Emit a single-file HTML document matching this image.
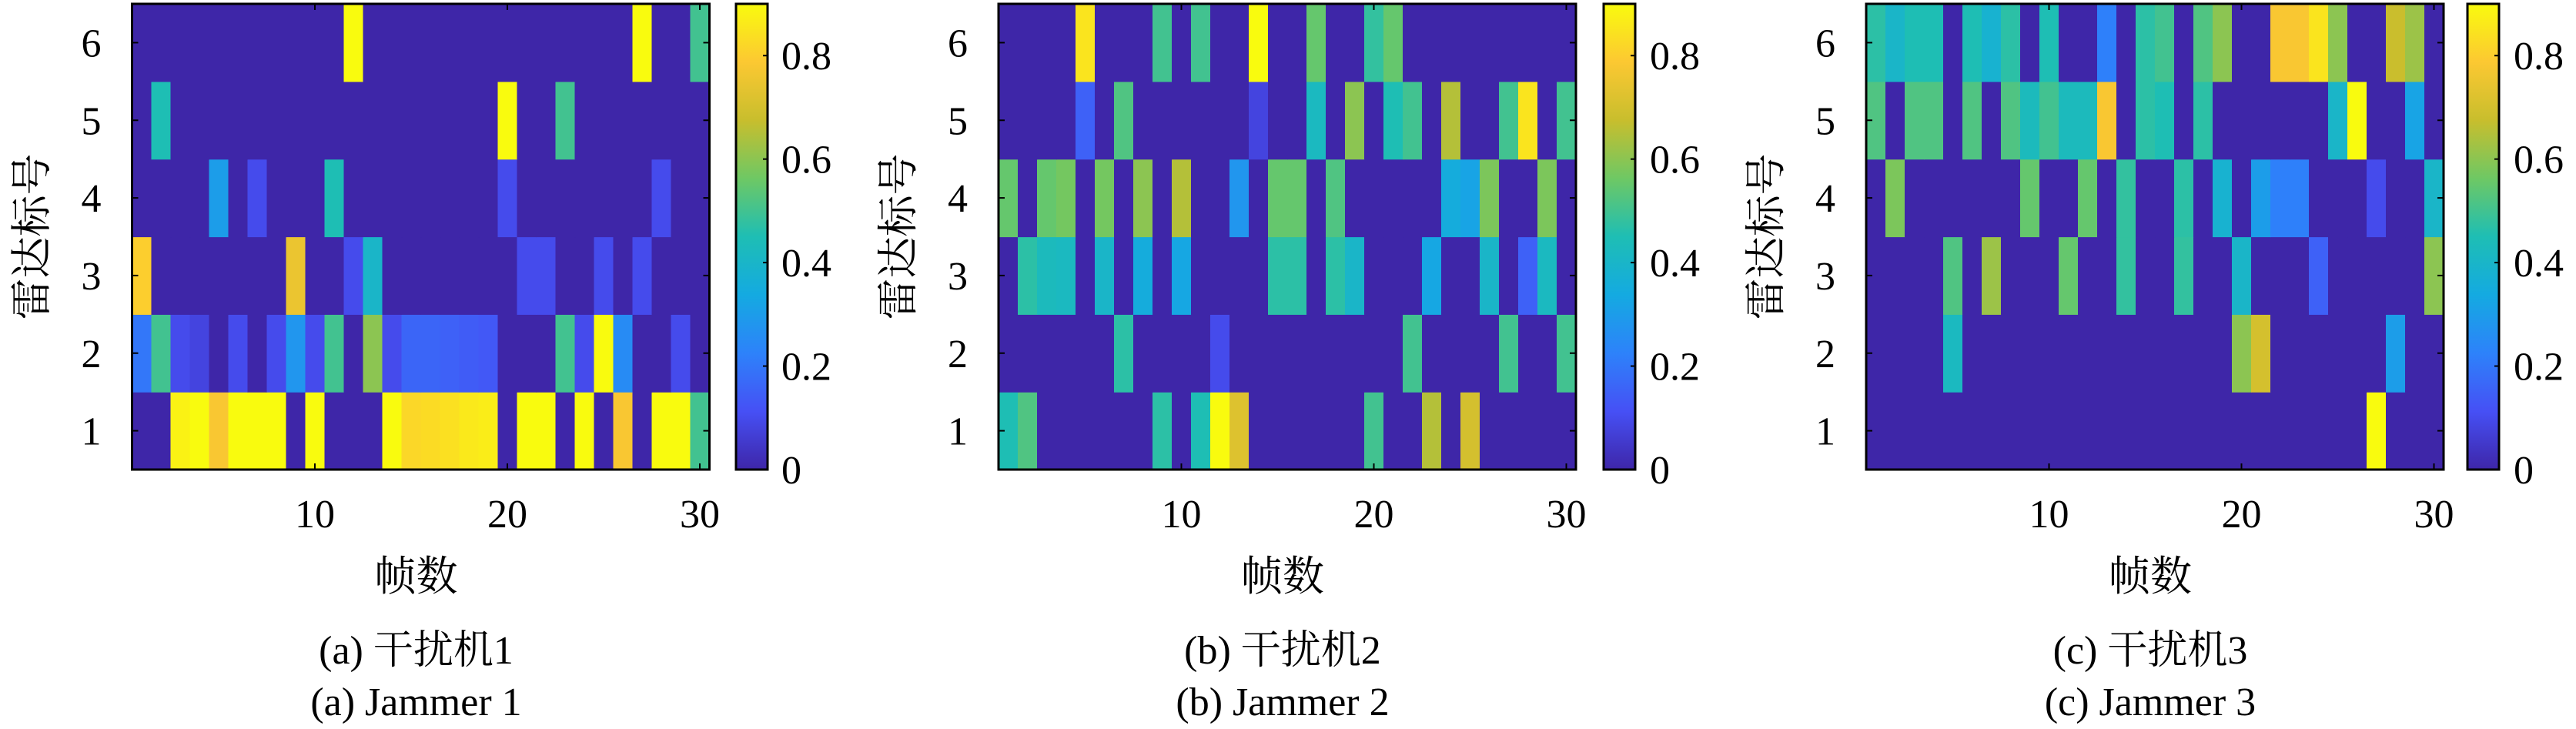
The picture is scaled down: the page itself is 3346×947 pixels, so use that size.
<!DOCTYPE html>
<html><head><meta charset="utf-8"><style>
html,body{margin:0;padding:0;background:#fff;}
svg{display:block;}
text{font-family:"Liberation Serif","Noto Serif CJK SC",serif;fill:#000;}
</style></head><body>
<svg id="chart" width="3346" height="947" viewBox="0 0 3346 947" xmlns="http://www.w3.org/2000/svg"></svg>
<script>
// ---- data (rows: radar 1..6, cols: frame 1..30) ----
const frames = [1,2,3,4,5,6,7,8,9,10,11,12,13,14,15,16,17,18,19,20,21,22,23,24,25,26,27,28,29,30];
const radars = [1,2,3,4,5,6];
const xTicks = [10,20,30];
const yTicks = [1,2,3,4,5,6];
const cTicks = [0,0.2,0.4,0.6,0.8];
const cTickLabels = ["0","0.2","0.4","0.6","0.8"];
const cMin = 0, cMax = 0.9;
const panelCaptionsZh = ["(a) 干扰机1","(b) 干扰机2","(c) 干扰机3"];
const panelCaptionsEn = ["(a) Jammer 1","(b) Jammer 2","(c) Jammer 3"];

const jammer1 = [
 [0,0,0.88,0.9,0.78,0.9,0.9,0.9,0,0.9,0,0,0,0.9,0.82,0.83,0.84,0.86,0.87,0,0.9,0.9,0,0.9,0,0.78,0,0.9,0.9,0.5],
 [0.2,0.5,0.1,0.08,0,0.1,0,0.1,0.28,0.1,0.5,0,0.6,0.1,0.16,0.16,0.15,0.14,0.13,0,0,0,0.5,0.1,0.9,0.25,0,0,0.1,0],
 [0.8,0,0,0,0,0,0,0,0.75,0,0,0.1,0.4,0,0,0,0,0,0,0,0.1,0.1,0,0,0.1,0,0.1,0,0,0],
 [0,0,0,0,0.3,0,0.1,0,0,0,0.45,0,0,0,0,0,0,0,0,0.1,0,0,0,0,0,0,0,0.1,0,0],
 [0,0.45,0,0,0,0,0,0,0,0,0,0,0,0,0,0,0,0,0,0.9,0,0,0.5,0,0,0,0,0,0,0],
 [0,0,0,0,0,0,0,0,0,0,0,0.9,0,0,0,0,0,0,0,0,0,0,0,0,0,0,0.9,0,0,0.5]
];
const jammer2 = [
 [0.45,0.52,0,0,0,0,0,0,0.47,0,0.45,0.9,0.72,0,0,0,0,0,0,0.5,0,0,0.65,0,0.7,0,0,0,0,0],
 [0,0,0,0,0,0,0.47,0,0,0,0,0.1,0,0,0,0,0,0,0,0,0,0.5,0,0,0,0,0.5,0,0,0.5],
 [0,0.47,0.43,0.42,0,0.4,0,0.35,0,0.33,0,0,0,0,0.47,0.47,0,0.47,0.4,0,0,0,0.33,0,0,0.4,0,0.15,0.42,0],
 [0.55,0,0.55,0.57,0,0.57,0,0.6,0,0.65,0,0,0.28,0,0.55,0.55,0,0.52,0,0,0,0,0,0.35,0.32,0.58,0,0,0.58,0],
 [0,0,0,0,0.15,0,0.52,0,0,0,0,0,0,0.08,0,0,0.42,0,0.6,0,0.45,0.5,0,0.65,0,0,0.5,0.85,0,0.5],
 [0,0,0,0,0.85,0,0,0,0.5,0,0.5,0,0,0.9,0,0,0.55,0,0,0.48,0.55,0,0,0,0,0,0,0,0,0]
];
const jammer3 = [
 [0,0,0,0,0,0,0,0,0,0,0,0,0,0,0,0,0,0,0,0,0,0,0,0,0,0,0.9,0,0,0],
 [0,0,0,0,0.42,0,0,0,0,0,0,0,0,0,0,0,0,0,0,0.6,0.7,0,0,0,0,0,0,0.3,0,0],
 [0,0,0,0,0.52,0,0.62,0,0,0,0.55,0,0,0.48,0,0,0.48,0,0,0.4,0,0,0,0.15,0,0,0,0,0,0.6],
 [0,0.58,0,0,0,0,0,0,0.55,0,0,0.55,0,0.48,0,0,0.47,0,0.38,0,0.3,0.22,0.22,0,0,0,0.1,0,0,0.4],
 [0.52,0,0.52,0.52,0,0.52,0,0.52,0.43,0.5,0.43,0.43,0.78,0,0.47,0.45,0,0.47,0,0,0,0,0,0,0.4,0.9,0,0,0.32,0],
 [0.47,0.4,0.45,0.45,0,0.45,0.38,0.47,0,0.45,0,0,0.22,0,0.47,0.5,0,0.52,0.6,0,0,0.78,0.78,0.85,0.6,0,0,0.68,0.62,0]
];
const jammers = [jammer1, jammer2, jammer3];

// ---- layout ----
const NS = "http://www.w3.org/2000/svg";
const svg = document.getElementById('chart');
const panels = [
 {left:171.5, cbL:956, cbLab:1015},
 {left:1297, cbL:2083, cbLab:2143},
 {left:2424, cbL:3205, cbLab:3265}
];
const W = 750, TOP = 5, BOT = 610, CBW = 41;
const stops = [[0,[62,38,168]],[0.125,[70,80,245]],[0.25,[45,130,250]],[0.375,[20,170,225]],[0.5,[30,190,180]],[0.625,[110,200,100]],[0.75,[200,190,45]],[0.875,[252,200,50]],[1,[249,251,14]]];
function parula(v){
  let t = Math.max(0, Math.min(1, (v - cMin) / (cMax - cMin)));
  for (let i = 1; i < stops.length; i++) {
    if (t <= stops[i][0]) {
      const a = stops[i-1], b = stops[i], f = (t - a[0]) / (b[0] - a[0]);
      const c = a[1].map((x, k) => Math.round(x + (b[1][k] - x) * f));
      return `rgb(${c[0]},${c[1]},${c[2]})`;
    }
  }
  return 'rgb(249,251,14)';
}
function mk(tag, attrs, parent){
  const e = document.createElementNS(NS, tag);
  for (const k in attrs) e.setAttribute(k, attrs[k]);
  (parent || svg).appendChild(e);
  return e;
}
const defs = mk('defs', {});
const grad = mk('linearGradient', {id:'cbgrad', x1:0, y1:1, x2:0, y2:0}, defs);
stops.forEach(s => mk('stop', {offset: s[0], 'stop-color': `rgb(${s[1].join(',')})`}, grad));

panels.forEach((p, pi) => {
  const data = jammers[pi];
  const xs = v => p.left + (v - 0.5) / 30 * W;
  const ys = v => BOT - (v - 0.5) / 6 * (BOT - TOP);
  const g = mk('g', {});
  
  
  data.forEach((row, ri) => {
    row.forEach((v, ci) => {
      const x0 = xs(frames[ci] - 0.5), x1 = xs(frames[ci] + 0.5);
      const y0 = ys(radars[ri] + 0.5), y1 = ys(radars[ri] - 0.5);
      const r = mk('rect', {x:x0, y:y0, width:x1 - x0 + 0.6, height:y1 - y0 + 0.6, fill:parula(v)}, g);
      
      
    });
  });
  const frame = mk('rect', {x:p.left, y:TOP, width:W, height:BOT - TOP, fill:'none', stroke:'#000', 'stroke-width':3}, g);
  
  
  xTicks.forEach(t => {
    const x = xs(t);
    mk('line', {x1:x, y1:BOT, x2:x, y2:BOT - 8, stroke:'#000', 'stroke-width':2}, g);
    mk('line', {x1:x, y1:TOP, x2:x, y2:TOP + 8, stroke:'#000', 'stroke-width':2}, g);
    const tx = mk('text', {x:x, y:685, 'font-size':52, 'text-anchor':'middle'}, g);
    tx.textContent = t;
    
    
  });
  yTicks.forEach(t => {
    const y = ys(t);
    mk('line', {x1:p.left, y1:y, x2:p.left + 8, y2:y, stroke:'#000', 'stroke-width':2}, g);
    mk('line', {x1:p.left + W, y1:y, x2:p.left + W - 8, y2:y, stroke:'#000', 'stroke-width':2}, g);
    const ty = mk('text', {x:p.left - 40, y:y + 18, 'font-size':52, 'text-anchor':'end'}, g);
    ty.textContent = t;
    
    
  });
  const yl = mk('text', {x:0, y:0, 'font-size':54, 'text-anchor':'middle', transform:`translate(${p.left - 112},${(TOP + BOT) / 2}) rotate(-90)`}, g);
  yl.textContent = '雷达标号';
  
  
  const xl = mk('text', {x:p.left + W / 2 - 6, y:767, 'font-size':54, 'text-anchor':'middle'}, g);
  xl.textContent = '帧数';
  
  
  const c1 = mk('text', {x:p.left + W / 2 - 6, y:862, 'font-size':52, 'text-anchor':'middle'}, g);
  c1.textContent = panelCaptionsZh[pi];
  
  
  const c2 = mk('text', {x:p.left + W / 2 - 6, y:929, 'font-size':52, 'text-anchor':'middle'}, g);
  c2.textContent = panelCaptionsEn[pi];
  
  
  const cb = mk('rect', {x:p.cbL, y:TOP, width:CBW, height:BOT - TOP, fill:'url(#cbgrad)', stroke:'#000', 'stroke-width':3}, g);
  
  
  const cy = v => BOT - (v - cMin) / (cMax - cMin) * (BOT - TOP);
  cTicks.forEach((t, i) => {
    const y = cy(t);
    mk('line', {x1:p.cbL + CBW, y1:y, x2:p.cbL + CBW - 6, y2:y, stroke:'#000', 'stroke-width':2}, g);
    const ct = mk('text', {x:p.cbLab, y:y + 18, 'font-size':52}, g);
    ct.textContent = cTickLabels[i];
    
    
  });
});
</script>
</body></html>
